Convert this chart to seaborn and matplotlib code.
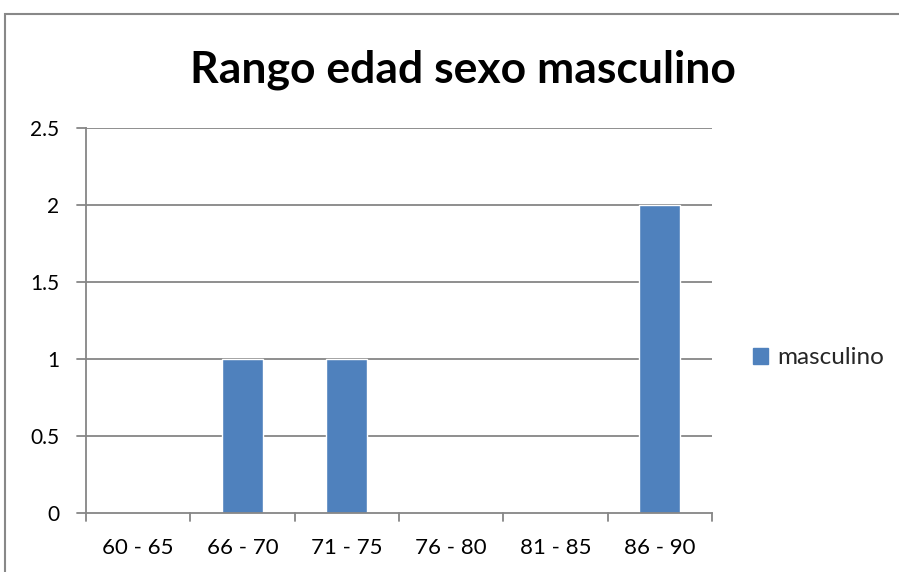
import matplotlib
matplotlib.use("Agg")
import matplotlib.pyplot as plt
from matplotlib.patches import Rectangle, Patch
import numpy as np
import pandas as pd
import seaborn as sns

# data
rangos = ["60 - 65", "66 - 70", "71 - 75", "76 - 80", "81 - 85", "86 - 90"]
masculino = [0, 1, 1, 0, 0, 2]
y_ticks = [0, 0.5, 1, 1.5, 2, 2.5]
y_labels = ["0", "0.5", "1", "1.5", "2", "2.5"]

bar_color = "#4F81BD"
grid_color = "#868686"

sns.set_style("white")
plt.rcParams["font.family"] = ["Lato", "DejaVu Sans"]

df = pd.DataFrame({"rango": rangos, "masculino": masculino})

fig = plt.figure(figsize=(8.99, 5.72), dpi=100)
ax = fig.add_axes([86 / 899, 1 - 513 / 572, (712 - 86) / 899, (513 - 128) / 572])

sns.barplot(data=df, x="rango", y="masculino", color=bar_color,
            width=0.39, saturation=1, ax=ax)

ax.set_xlim(-0.5, len(rangos) - 0.5)
ax.set_ylim(0, 2.5)
ax.set_yticks(y_ticks)
ax.set_yticklabels(y_labels, fontsize=15, color="black")
ax.set_xticks(range(len(rangos)))
ax.set_xticklabels(rangos, fontsize=16, color="black")
ax.tick_params(axis="x", length=0, pad=18)
ax.tick_params(axis="y", length=0, pad=19)
ax.set_xlabel("")
ax.set_ylabel("")

# gridlines
for v in y_ticks:
    if v > 0:
        ax.axhline(v, color=grid_color, lw=1.3, zorder=0)

for side in ["top", "right"]:
    ax.spines[side].set_visible(False)
ax.spines["left"].set_color(grid_color)
ax.spines["bottom"].set_color(grid_color)
ax.spines["left"].set_linewidth(1.3)
ax.spines["bottom"].set_linewidth(1.3)

# tick marks between categories (excel style)
for b in np.arange(-0.5, len(rangos), 1.0):
    ax.plot([b, b], [0, -0.055], color=grid_color, lw=1.3, clip_on=False)
for v in y_ticks:
    ax.plot([-0.5 - 0.09, -0.5], [v, v], color=grid_color, lw=1.3, clip_on=False)

fig.text((189 + 737) / 2 / 899, 1 - 70 / 572, "Rango edad sexo masculino",
         ha="center", va="center", fontsize=32, fontweight="bold", color="black")

ax.legend(handles=[Patch(color=bar_color, label="masculino")],
          loc="center left", bbox_to_anchor=(1.03, 0.403), frameon=False,
          fontsize=17.5, handlelength=0.65, handleheight=0.65, handletextpad=0.35)

fig.patches.append(Rectangle((5 / 899, -0.1), 1.2, 0.1 + 1 - 14 / 572,
                             transform=fig.transFigure, fill=False,
                             edgecolor="#888888", lw=1.5))

fig.savefig("out.png", dpi=100)
